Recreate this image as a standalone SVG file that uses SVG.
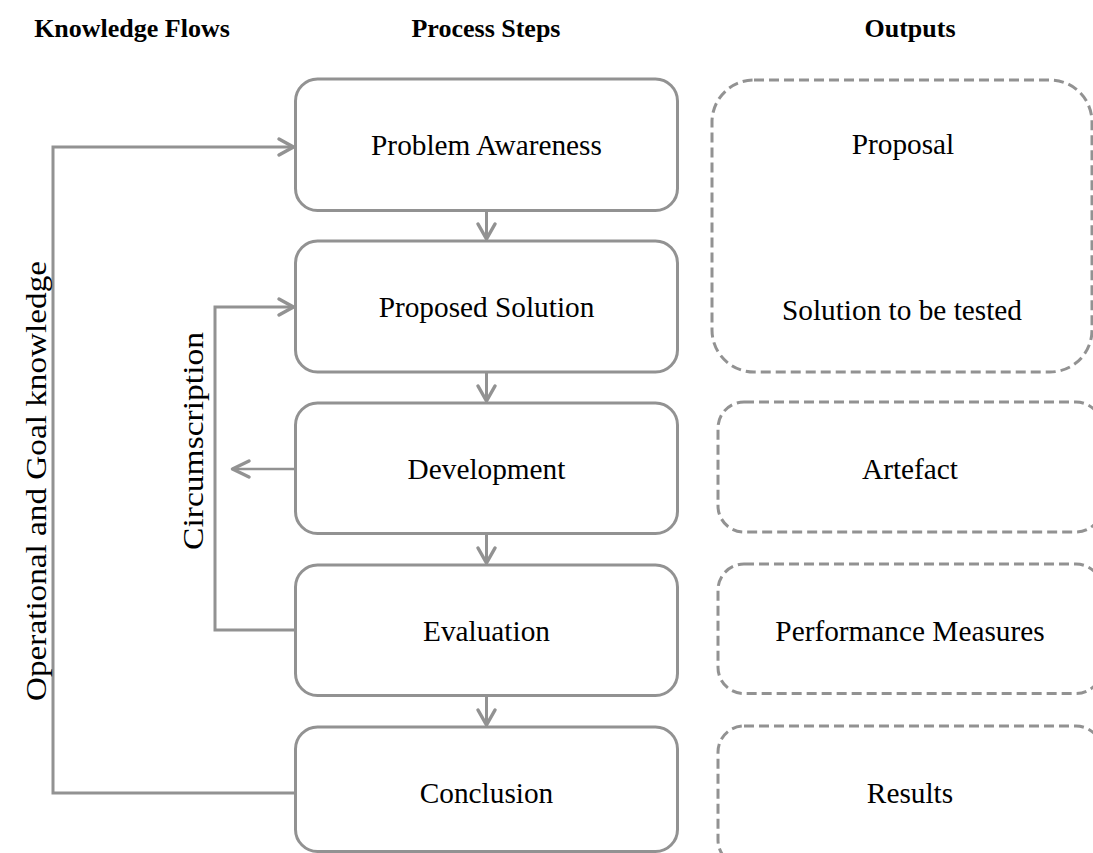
<svg xmlns="http://www.w3.org/2000/svg" width="1093" height="853" viewBox="0 0 1093 853">
<defs>
<style>
.box{fill:#fff;stroke:#929292;stroke-width:3}
.out{fill:#fff;stroke:#929292;stroke-width:3;stroke-dasharray:10 5}
.t{font-family:"Liberation Serif","Times New Roman",serif;font-size:29.3px;fill:#000;text-anchor:middle}
.h{font-family:"Liberation Serif","Times New Roman",serif;font-size:26px;font-weight:bold;fill:#000;text-anchor:middle}
.c{fill:none;stroke:#929292;stroke-width:3}
.ah{fill:none;stroke:#929292;stroke-width:3.5;stroke-linecap:round;stroke-linejoin:round}
</style>
</defs>
<rect width="1093" height="853" fill="#fff"/>
<g id="headings">
<text class="h" x="132" y="37">Knowledge Flows</text>
<text class="h" x="486" y="37">Process Steps</text>
<text class="h" x="910" y="37">Outputs</text>
</g>
<g id="connectors">
<polyline class="c" points="295,793 53,793 53,147 293,147"/>
<polyline class="ah" points="279,139 293.5,147 279,155"/>
<polyline class="c" points="295,630 215,630 215,307 293,307"/>
<polyline class="ah" points="279,299 293.5,307 279,315"/>
<line x1="295" y1="469" x2="233" y2="469" stroke="#929292" stroke-width="2.5"/>
<polyline class="ah" points="249,461 232.5,469 249,477"/>
<line class="c" x1="486.5" y1="211" x2="486.5" y2="239"/>
<polyline class="ah" points="478,224 486.5,239 495,224"/>
<line class="c" x1="486.5" y1="372" x2="486.5" y2="401"/>
<polyline class="ah" points="478,386 486.5,401 495,386"/>
<line class="c" x1="486.5" y1="534" x2="486.5" y2="563"/>
<polyline class="ah" points="478,548 486.5,563 495,548"/>
<line class="c" x1="486.5" y1="696" x2="486.5" y2="725"/>
<polyline class="ah" points="478,710 486.5,725 495,710"/>
</g>
<g id="problem-awareness">
<rect class="box" x="295.5" y="79" width="382" height="131.5" rx="22"/>
<text class="t" x="486.5" y="155">Problem Awareness</text>
</g>
<g id="proposed-solution">
<rect class="box" x="295.5" y="241" width="382" height="131" rx="22"/>
<text class="t" x="486.5" y="317">Proposed Solution</text>
</g>
<g id="development">
<rect class="box" x="295.5" y="403" width="382" height="130.5" rx="22"/>
<text class="t" x="486.5" y="479">Development</text>
</g>
<g id="evaluation">
<rect class="box" x="295.5" y="565" width="382" height="130.5" rx="22"/>
<text class="t" x="486.5" y="641">Evaluation</text>
</g>
<g id="conclusion">
<rect class="box" x="295.5" y="727" width="382" height="124.5" rx="22"/>
<text class="t" x="486.5" y="803">Conclusion</text>
</g>
<g id="out-proposal">
<rect class="out" x="712" y="80" width="380" height="292" rx="42"/>
<text class="t" x="903" y="154">Proposal</text>
<text class="t" x="902" y="320">Solution to be tested</text>
</g>
<g id="out-artefact">
<rect class="out" x="718" y="402" width="384" height="130" rx="26"/>
<text class="t" x="910" y="479">Artefact</text>
</g>
<g id="out-performance">
<rect class="out" x="718" y="564" width="384" height="129.5" rx="26"/>
<text class="t" x="910" y="641">Performance Measures</text>
</g>
<g id="out-results">
<rect class="out" x="718" y="726" width="384" height="140" rx="26"/>
<text class="t" x="910" y="803">Results</text>
</g>
<g id="labels">
<text class="t" transform="translate(46,481) rotate(-90)" textLength="440" lengthAdjust="spacingAndGlyphs">Operational and Goal knowledge</text>
<text class="t" transform="translate(203,441) rotate(-90)" textLength="218" lengthAdjust="spacingAndGlyphs">Circumscription</text>
</g>
</svg>
